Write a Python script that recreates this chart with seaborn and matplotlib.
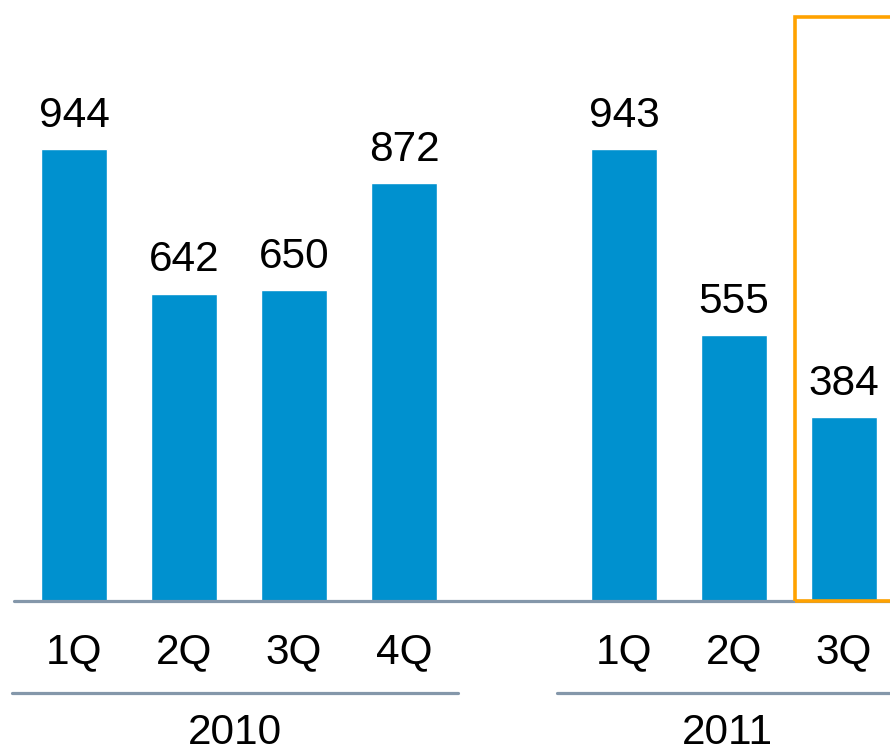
import matplotlib
matplotlib.use("Agg")
import matplotlib.pyplot as plt
import matplotlib.transforms as mtransforms
from matplotlib.patches import Rectangle
import seaborn as sns
import numpy as np

# data
years = ["2010", "2011"]
quarters_2010 = ["1Q", "2Q", "3Q", "4Q"]
quarters_2011 = ["1Q", "2Q", "3Q"]
values_2010 = [944, 642, 650, 872]
values_2011 = [943, 555, 384]

sns.set_theme(style="white")
plt.rcParams['font.family'] = ['Liberation Sans', 'DejaVu Sans']

BLUE = "#0091CF"
GREY = "#8497AA"
ORANGE = "#FFA200"
FS = 30.5

# x positions: one empty slot between the years
pos_2010 = np.arange(len(values_2010))
pos_2011 = np.arange(len(values_2011)) + len(values_2010) + 1
pos = np.concatenate([pos_2010, pos_2011])
vals = values_2010 + values_2011
labels = quarters_2010 + quarters_2011

fig = plt.figure(figsize=(8.9, 7.54), dpi=100)
ax = fig.add_axes([0, 153 / 754, 1, 601 / 754])

sns.barplot(x=pos, y=vals, native_scale=True, width=0.6, color=BLUE,
            saturation=1, ax=ax, zorder=2)

ax.set_xlim(-74 / 110, 816 / 110)
ax.set_ylim(0, 601 / 0.4788)
for s in ax.spines.values():
    s.set_visible(False)
ax.set_xticks([])
ax.set_yticks([])
ax.set_xlabel("")
ax.set_ylabel("")

# baseline
ax.axhline(0, xmin=14 / 890, xmax=1, color=GREY, lw=2.3, zorder=3, clip_on=False)

# value labels
for x, v in zip(pos, vals):
    ax.annotate(str(v), (x, v), xytext=(0, 16), textcoords="offset points",
                ha="center", va="baseline", fontsize=FS, color="black")

trans = mtransforms.blended_transform_factory(ax.transData, ax.transAxes)

# quarter labels
for x, lab in zip(pos, labels):
    ax.text(x, -62 / 601, lab, transform=trans, ha="center", va="baseline",
            fontsize=FS, color="black")

# year group lines and labels (line extents and label centres in data units)
group_lines = [(-0.5636, 3.491), (4.391, 7.6)]
year_x = [1.4636, 5.936]
for yr, (x0, x1), xc in zip(years, group_lines, year_x):
    ax.plot([x0, x1], [-92 / 601, -92 / 601], transform=trans, color=GREY,
            lw=2.3, clip_on=False)
    ax.text(xc, -143 / 601, yr, transform=trans, ha="center", va="baseline",
            fontsize=FS, color="black")

# highlight box around the latest quarter
ax.add_patch(Rectangle((6.555, 0), 2.0, 1220, fill=False, edgecolor=ORANGE,
                       lw=2.6, zorder=4, clip_on=False))

fig.savefig("out.png", dpi=100)
